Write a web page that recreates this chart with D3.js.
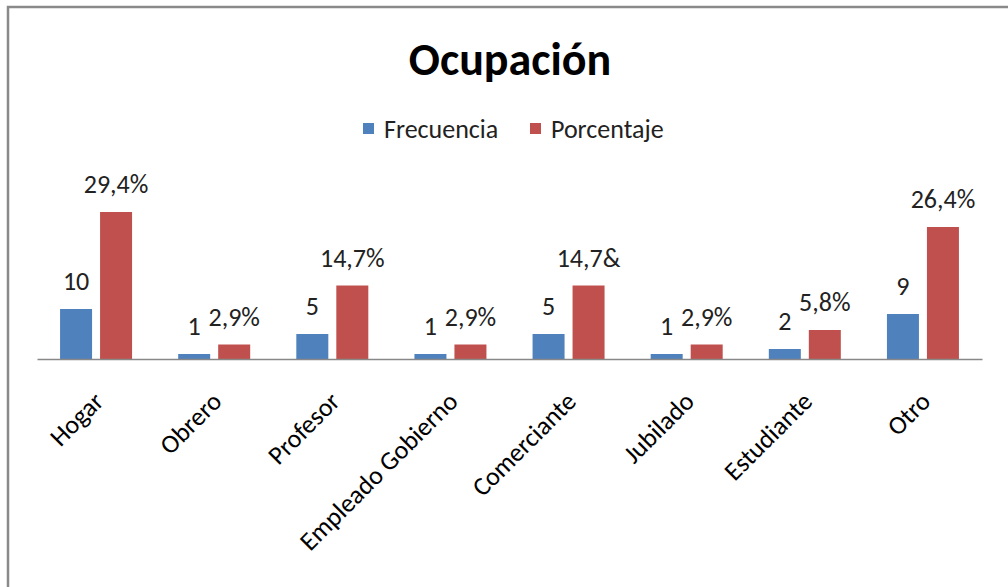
<!DOCTYPE html>
<html>
<head>
<meta charset="utf-8">
<script src="https://cdn.jsdelivr.net/npm/d3@7"></script>
<style>
  body { margin: 0; background: #fff; }
  text { font-family: Carlito, Calibri, Lato, sans-serif; fill: #000; }
</style>
</head>
<body>
<script>
var categories = ["Hogar", "Obrero", "Profesor", "Empleado Gobierno", "Comerciante", "Jubilado", "Estudiante", "Otro"];
var seriesNames = ["Frecuencia", "Porcentaje"];
var frecuencia = [10, 1, 5, 1, 5, 1, 2, 9];
var porcentaje = [29.4, 2.9, 14.7, 2.9, 14.7, 2.9, 5.8, 26.4];
var frecuenciaLabels = ["10", "1", "5", "1", "5", "1", "2", "9"];
var porcentajeLabels = ["29,4%", "2,9%", "14,7%", "2,9%", "14,7&", "2,9%", "5,8%", "26,4%"];
var colors = ["#4F81BD", "#C0504D"];

var width = 1008, height = 587;

var svg = d3.select("body").append("svg")
    .attr("width", width)
    .attr("height", height);

// frame
svg.append("rect")
    .attr("x", 8).attr("y", 7)
    .attr("width", width + 10).attr("height", height + 10)
    .attr("fill", "#fff")
    .attr("stroke", "#8a8a8a")
    .attr("stroke-width", 2.5);

svg.append("text")
    .attr("x", 510).attr("y", 75)
    .attr("text-anchor", "middle")
    .style("font-size", "46px")
    .style("font-weight", "bold")
    .text("Ocupación");

// legend
var legendX = [363, 530];
var legend = svg.selectAll(".legend")
    .data(seriesNames)
  .enter().append("g")
    .attr("class", "legend")
    .attr("transform", function(d, i) { return "translate(" + legendX[i] + ",123)"; });

legend.append("rect")
    .attr("width", 11).attr("height", 11)
    .attr("fill", function(d, i) { return colors[i]; });

legend.append("text")
    .attr("x", 21).attr("y", 15)
    .style("font-size", "26px")
    .style("fill", "#222")
    .text(function(d) { return d; });

var x0 = d3.scaleBand().domain(categories).range([37, 982]);
var groupW = 72;
var x1 = d3.scaleBand().domain(seriesNames)
    .range([(x0.bandwidth() - groupW) / 2, (x0.bandwidth() + groupW) / 2])
    .paddingInner(0.2);
var y = d3.scaleLinear().domain([0, 30]).range([359, 209]);

var rows = categories.map(function(c, i) {
  return [
    {cat: c, s: 0, v: frecuencia[i], label: frecuenciaLabels[i]},
    {cat: c, s: 1, v: porcentaje[i], label: porcentajeLabels[i]}
  ];
});

var group = svg.selectAll(".group")
    .data(rows)
  .enter().append("g")
    .attr("class", "group")
    .attr("transform", function(d, i) { return "translate(" + x0(categories[i]) + ",0)"; });

group.selectAll("rect")
    .data(function(d) { return d; })
  .enter().append("rect")
    .attr("x", function(d) { return x1(seriesNames[d.s]); })
    .attr("y", function(d) { return y(d.v); })
    .attr("width", x1.bandwidth())
    .attr("height", function(d) { return y(0) - y(d.v); })
    .attr("fill", function(d) { return colors[d.s]; });

group.selectAll("text")
    .data(function(d) { return d; })
  .enter().append("text")
    .attr("x", function(d) { return x1(seriesNames[d.s]) + x1.bandwidth() / 2; })
    .attr("y", function(d) { return y(d.v) - 19; })
    .attr("text-anchor", "middle")
    .style("font-size", "26px")
    .style("fill", "#222")
    .text(function(d) { return d.label; });

// axis line
var xAxis = svg.append("g")
    .attr("transform", "translate(0," + y(0) + ")")
    .call(d3.axisBottom(x0).tickSize(0).tickFormat(""));
xAxis.select(".domain").attr("stroke", "#888").attr("stroke-width", 1.5);

// category labels
svg.selectAll(".cat")
    .data(categories)
  .enter().append("text")
    .attr("class", "cat")
    .attr("text-anchor", "end")
    .attr("transform", function(d) {
      return "translate(" + (x0(d) + x0.bandwidth() / 2 + 9) + ",403)rotate(-45)";
    })
    .style("font-size", "26px")
    .text(function(d) { return d; });
</script>
</body>
</html>
